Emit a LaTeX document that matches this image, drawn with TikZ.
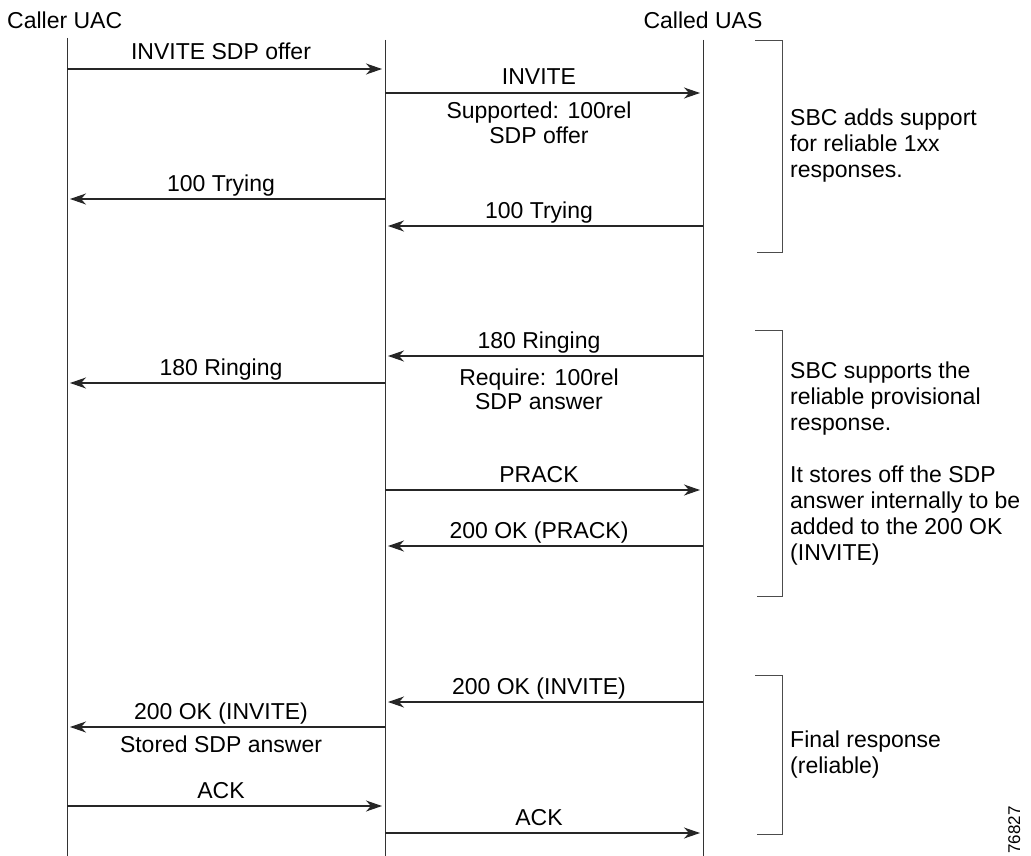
\documentclass[tikz,border=0pt]{standalone}
\usepackage{fontspec}
\setmainfont{Liberation Sans}
\usetikzlibrary{arrows.meta}
\begin{document}
\begin{tikzpicture}[x=1pt,y=-1pt,
  lbl/.style={inner sep=0pt, anchor=base, font=\fontsize{23}{26}\selectfont},
  msg/.style={draw=black!85, line width=1.1pt, -{Stealth[length=16pt,width=11pt,inset=5pt]}, shorten >=3pt},
  life/.style={draw=black!80, line width=1pt},
  brk/.style={draw=black!70, line width=1pt},
  note/.style={inner sep=0pt, anchor=west, align=left, font=\fontsize{23}{26}\selectfont},
]
\useasboundingbox[fill=white] (0,0) rectangle (1031,856);

% headers
\node[lbl, anchor=base west] (hc) at (7,29) {Caller UAC};
\node[lbl] (hu) at (703,29) {Called UAS};

% lifelines
\coordinate (cT) at (67,38);  \coordinate (cB) at (67,856);
\coordinate (sT) at (385,40); \coordinate (sB) at (385,856);
\coordinate (uT) at (703,40); \coordinate (uB) at (703,856);
\draw[life] (cT) -- (cB);
\draw[life] (sT) -- (sB);
\draw[life] (uT) -- (uB);

% message end points
\coordinate (m1a) at (67,69);   \coordinate (m1b) at (385,69);
\coordinate (m2a) at (385,93);  \coordinate (m2b) at (703,93);
\coordinate (m3a) at (385,199); \coordinate (m3b) at (67,199);
\coordinate (m4a) at (703,226); \coordinate (m4b) at (385,226);
\coordinate (m5a) at (703,356); \coordinate (m5b) at (385,356);
\coordinate (m6a) at (385,383); \coordinate (m6b) at (67,383);
\coordinate (m7a) at (385,490); \coordinate (m7b) at (703,490);
\coordinate (m8a) at (703,546); \coordinate (m8b) at (385,546);
\coordinate (m9a) at (703,702); \coordinate (m9b) at (385,702);
\coordinate (m10a) at (385,727); \coordinate (m10b) at (67,727);
\coordinate (m11a) at (67,806);  \coordinate (m11b) at (385,806);
\coordinate (m12a) at (385,833); \coordinate (m12b) at (703,833);

\draw[msg] (m1a) -- (m1b);
\draw[msg] (m2a) -- (m2b);
\draw[msg] (m3a) -- (m3b);
\draw[msg] (m4a) -- (m4b);
\draw[msg] (m5a) -- (m5b);
\draw[msg] (m6a) -- (m6b);
\draw[msg] (m7a) -- (m7b);
\draw[msg] (m8a) -- (m8b);
\draw[msg] (m9a) -- (m9b);
\draw[msg] (m10a) -- (m10b);
\draw[msg] (m11a) -- (m11b);
\draw[msg] (m12a) -- (m12b);

% labels
\node[lbl] (l1) at (221,60) {INVITE SDP offer};
\node[lbl] (l2) at (539,85) {INVITE};
\node[lbl] (l2b) at (539,119) {Supported: 100rel};
\node[lbl] (l2c) at (539,144) {SDP offer};
\node[lbl] (l3) at (221,191) {100 Trying};
\node[lbl] (l4) at (539,218) {100 Trying};
\node[lbl] (l5) at (539,348) {180 Ringing};
\node[lbl] (l5b) at (539,385) {Require: 100rel};
\node[lbl] (l5c) at (539,409) {SDP answer};
\node[lbl] (l6) at (221,375) {180 Ringing};
\node[lbl] (l7) at (539,482) {PRACK};
\node[lbl] (l8) at (539,538) {200 OK (PRACK)};
\node[lbl] (l9) at (539,694) {200 OK (INVITE)};
\node[lbl] (l10) at (221,719) {200 OK (INVITE)};
\node[lbl] (l10b) at (221,752) {Stored SDP answer};
\node[lbl] (l11) at (221,798) {ACK};
\node[lbl] (l12) at (539,825) {ACK};

% brackets
\draw[brk] (755,41) -- (782,41) -- (782,252) -- (757,252);
\draw[brk] (755,330) -- (782,330) -- (782,596) -- (757,596);
\draw[brk] (755,675) -- (782,675) -- (782,834) -- (757,834);

% notes
\node[note] (n1) at (790,146) {SBC adds support\\for reliable 1xx\\responses.};
\node[note] (n2) at (790,464) {SBC supports the\\reliable provisional\\response.\\[26pt]It stores off the SDP\\answer internally to be\\added to the 200 OK\\(INVITE)};
\node[note] (n3) at (790,755) {Final response\\(reliable)};

% figure id
\node[inner sep=0pt, rotate=90, anchor=base east, font=\fontsize{17}{20}\selectfont] (fid) at (1020,806) {76827};
\end{tikzpicture}
\end{document}
